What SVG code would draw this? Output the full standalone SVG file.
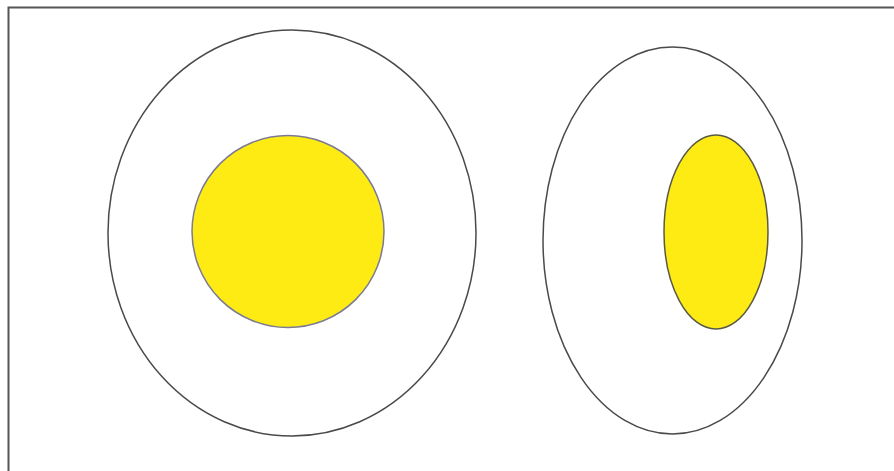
<svg xmlns="http://www.w3.org/2000/svg" width="894" height="471" viewBox="0 0 894 471">
<style>
.outer{fill:none;stroke:#4a4a4a;stroke-width:1.5}
.yolk{fill:#ffeb14;stroke-width:1.5}
</style>
<rect x="0" y="0" width="894" height="471" fill="#ffffff"/>
<path d="M8.5 471 V7.5 H894" fill="none" stroke="#555555" stroke-width="2"/>
<g id="left-egg">
<ellipse class="outer" cx="292" cy="233" rx="184" ry="203"/>
<circle class="yolk" cx="288" cy="231.5" r="96" stroke="#7a7a96"/>
</g>
<g id="right-egg">
<ellipse class="outer" cx="672.5" cy="240.5" rx="129.5" ry="193.5"/>
<ellipse class="yolk" cx="716" cy="232" rx="52" ry="97" stroke="#5a5a44"/>
</g>
<g id="connectors"/>
</svg>
